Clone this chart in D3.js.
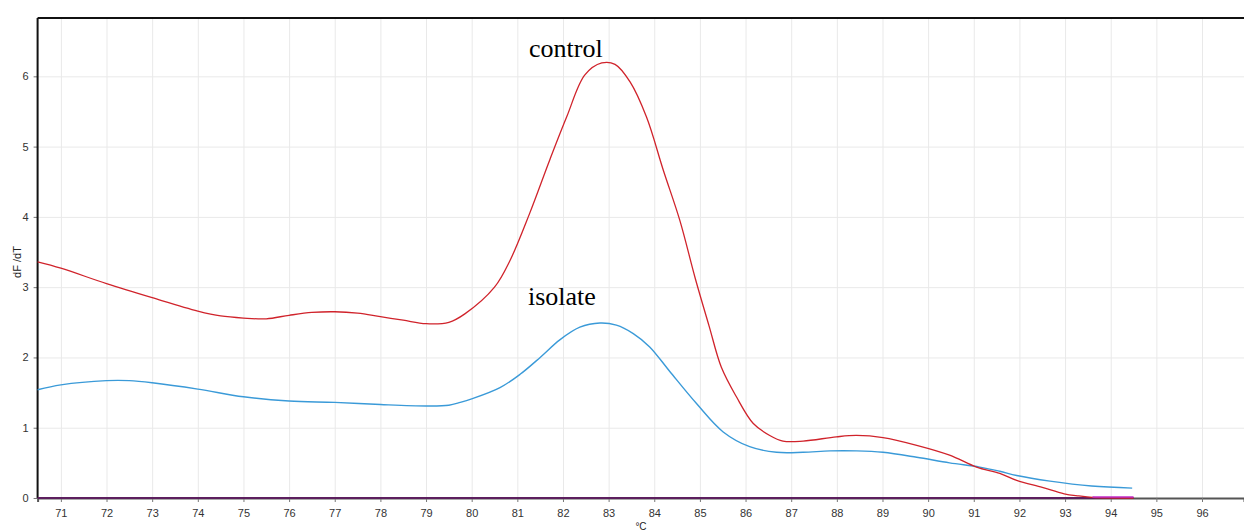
<!DOCTYPE html>
<html>
<head>
<meta charset="utf-8">
<script src="https://cdn.jsdelivr.net/npm/d3@7"></script>
<style>
  body { margin: 0; background: #fff; }
  svg { display: block; font-family: "Liberation Sans", Arial, sans-serif; }
  .grid line { stroke: #e9e9e9; stroke-width: 1; }
  .grid path { display: none; }
  .tick text { fill: #333; font-size: 11px; }
</style>
</head>
<body>
<svg></svg>
<script>

// melt curve data, temperature (°C) -> dF/dT

let controlTemp = [70.49, 71, 72, 73, 74, 74.5, 75, 75.5, 76, 76.5, 77, 77.5, 78, 78.5, 79, 79.5, 79.85, 80.5, 80.84, 81.27, 81.71, 82.08, 82.48, 82.85, 83.14, 83.47, 83.83, 84.2, 84.56, 84.9, 85.2, 85.47, 85.8, 86.17, 86.53, 86.82, 87.26, 87.99, 88.43, 89.01, 89.75, 90.47, 91.06, 91.57, 91.94, 92.5, 92.98, 93.3, 93.6, 94.5]
let controlValue = [3.36, 3.27, 3.05, 2.85, 2.66, 2.59, 2.56, 2.55, 2.6, 2.64, 2.65, 2.63, 2.58, 2.53, 2.48, 2.5, 2.62, 3.0, 3.38, 4.05, 4.81, 5.42, 6.02, 6.19, 6.17, 5.92, 5.42, 4.66, 3.95, 3.12, 2.45, 1.86, 1.44, 1.06, 0.89, 0.81, 0.81, 0.87, 0.89, 0.86, 0.75, 0.61, 0.44, 0.35, 0.25, 0.15, 0.06, 0.03, 0.01, 0]

let isolateTemp = [70.49, 71, 72, 72.5, 73, 74, 75, 76, 77, 78, 79, 79.5, 79.75, 80, 80.62, 81.06, 81.5, 81.93, 82.37, 82.81, 83.17, 83.54, 83.9, 84.34, 84.93, 85.51, 86.09, 86.68, 87.26, 87.85, 88.43, 89.01, 89.75, 90.47, 91.13, 91.57, 91.94, 92.67, 93.58, 94.47]
let isolateValue = [1.54, 1.61, 1.67, 1.67, 1.64, 1.55, 1.44, 1.38, 1.36, 1.33, 1.31, 1.32, 1.36, 1.41, 1.57, 1.76, 2.0, 2.25, 2.43, 2.49, 2.46, 2.34, 2.15, 1.8, 1.34, 0.94, 0.73, 0.65, 0.65, 0.67, 0.67, 0.65, 0.58, 0.5, 0.44, 0.38, 0.32, 0.24, 0.17, 0.14]

// flat no-template trace sitting on the baseline
let ntcTemp = [70.49, 94.5]
let ntcValue = [0, 0]

let xTicks = d3.range(71, 97)
let yTicks = [0, 1, 2, 3, 4, 5, 6]

let xScale
let yScale

// canvas
let width = 1244
let height = 531
let plotLeft = 37.6
let plotTop = 18
let plotBottom = 498

let svg = d3.select('svg')

let createCanvas = () => {
    svg.attr('width', width)
    svg.attr('height', height)
}

let createScales = () => {
    xScale = d3.scaleLinear()
                .domain([70.49, 96.92])
                .range([plotLeft, width])

    yScale = d3.scaleLinear()
                .domain([0, 6.83])
                .range([plotBottom, plotTop])
}

let createGrid = () => {
    svg.append('g')
        .attr('class', 'grid')
        .attr('transform', 'translate(0,' + plotBottom + ')')
        .call(d3.axisBottom(xScale).tickValues(xTicks).tickSize(-(plotBottom - plotTop)).tickFormat(''))

    svg.append('g')
        .attr('class', 'grid')
        .attr('transform', 'translate(' + plotLeft + ',0)')
        .call(d3.axisLeft(yScale).tickValues(yTicks).tickSize(-(width - plotLeft)).tickFormat(''))
}

let createAxis = () => {
    let xAxis = d3.axisBottom(xScale).tickValues(xTicks).tickSize(4).tickPadding(7).tickFormat(d3.format('d'))
    let yAxis = d3.axisLeft(yScale).tickValues(yTicks).tickSize(4).tickPadding(5).tickFormat(d3.format('d'))

    let gx = svg.append('g')
        .call(xAxis)
        .attr('id', 'x-axis')
        .attr('transform', 'translate(0,' + plotBottom + ')')
    gx.select('.domain').attr('stroke', '#555').attr('stroke-width', 2)
    gx.selectAll('.tick line').attr('stroke', '#777')

    let gy = svg.append('g')
        .call(yAxis)
        .attr('id', 'y-axis')
        .attr('transform', 'translate(' + plotLeft + ',0)')
    gy.select('.domain').remove()
    gy.selectAll('.tick line').attr('stroke', '#777')

    // frame lines, left and top
    svg.append('line')
        .attr('x1', plotLeft).attr('x2', plotLeft)
        .attr('y1', plotTop).attr('y2', plotBottom)
        .attr('stroke', '#111').attr('stroke-width', 2)
    svg.append('line')
        .attr('x1', plotLeft).attr('x2', width)
        .attr('y1', plotTop).attr('y2', plotTop)
        .attr('stroke', '#111').attr('stroke-width', 2)

    svg.append('text')
        .attr('transform', 'translate(21,262) rotate(-90)')
        .attr('text-anchor', 'middle')
        .attr('font-size', 11)
        .attr('fill', '#222')
        .text('dF /dT')

    svg.append('text')
        .attr('x', 641)
        .attr('y', 530)
        .attr('text-anchor', 'middle')
        .attr('font-size', 10)
        .attr('fill', '#222')
        .text('°C')
}

let createLines = () => {
    let line = d3.line()
        .x(d => xScale(d[0]))
        .y(d => yScale(d[1]))
        .curve(d3.curveCatmullRom.alpha(0.5))

    let series = [
        {temp: ntcTemp, value: ntcValue, color: '#5c1f5e', w: 2},
        {temp: isolateTemp, value: isolateValue, color: '#3a9ad8', w: 1.4},
        {temp: controlTemp, value: controlValue, color: '#d0232b', w: 1.3}
    ]

    series.forEach(s => {
        svg.append('path')
            .datum(s.temp.map((t, i) => [t, s.value[i]]))
            .attr('fill', 'none')
            .attr('stroke', s.color)
            .attr('stroke-width', s.w)
            .attr('d', line)
    })

    // magenta end of the flat trace
    svg.append('line')
        .attr('x1', xScale(93.6)).attr('x2', xScale(94.5))
        .attr('y1', yScale(0) - 1).attr('y2', yScale(0) - 1)
        .attr('stroke', '#c02cc8').attr('stroke-width', 1.5)
}

let createLabels = () => {
    svg.append('text')
        .attr('x', 529)
        .attr('y', 57)
        .attr('font-family', '"Liberation Serif", "Times New Roman", serif')
        .attr('font-size', 26)
        .attr('fill', '#000')
        .text('control')

    svg.append('text')
        .attr('x', 528)
        .attr('y', 305)
        .attr('font-family', '"Liberation Serif", "Times New Roman", serif')
        .attr('font-size', 26)
        .attr('fill', '#000')
        .text('isolate')
}

createCanvas()
createScales()
createGrid()
createAxis()
createLines()
createLabels()

</script>
</body>
</html>
